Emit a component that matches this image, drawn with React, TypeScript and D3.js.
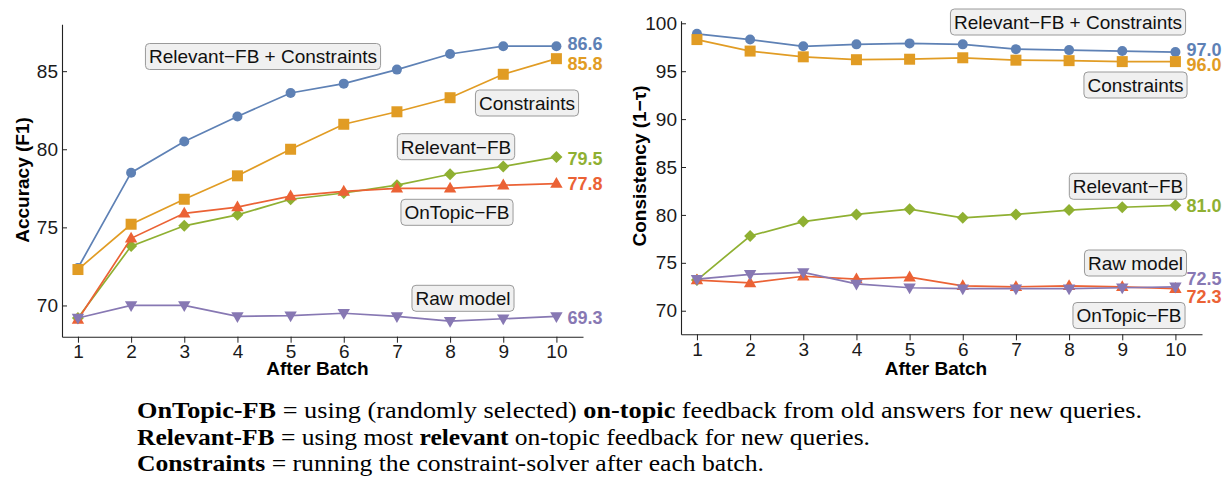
import React, { useRef, useEffect } from 'react';
import * as d3 from 'd3';

const batches = [1, 2, 3, 4, 5, 6, 7, 8, 9, 10];
const seriesNames = ["Relevant−FB + Constraints", "Constraints", "Relevant−FB", "OnTopic−FB", "Raw model"];
const seriesColors = ["#5e81b5", "#e19c24", "#8fb032", "#eb6235", "#8778b3"];
const seriesMarkers = ["circle", "square", "diamond", "triangleUp", "triangleDown"];

// Accuracy (F1)
const accRelConstr = [72.4, 78.5, 80.5, 82.1, 83.6, 84.2, 85.1, 86.1, 86.6, 86.6];
const accConstr = [72.3, 75.2, 76.8, 78.3, 80.0, 81.6, 82.4, 83.3, 84.8, 85.8];
const accRelevant = [69.2, 73.8, 75.1, 75.8, 76.8, 77.2, 77.7, 78.4, 78.9, 79.5];
const accOnTopic = [69.1, 74.3, 75.9, 76.3, 77.0, 77.3, 77.5, 77.5, 77.7, 77.8];
const accRaw = [69.2, 70.0, 70.0, 69.3, 69.35, 69.5, 69.3, 69.0, 69.15, 69.3];
const accEndLabels = ["86.6", "85.8", "79.5", "77.8", "69.3"];
const accTicks = [70, 75, 80, 85];

// Consistency (1-tau)
const conRelConstr = [98.9, 98.3, 97.6, 97.8, 97.9, 97.8, 97.3, 97.2, 97.1, 97.0];
const conConstr = [98.3, 97.1, 96.5, 96.2, 96.25, 96.4, 96.15, 96.1, 96.0, 96.0];
const conRelevant = [73.2, 77.8, 79.3, 80.05, 80.6, 79.7, 80.05, 80.5, 80.8, 81.0];
const conOnTopic = [73.2, 72.9, 73.6, 73.3, 73.5, 72.6, 72.5, 72.6, 72.5, 72.3];
const conRaw = [73.3, 73.8, 74.0, 72.8, 72.4, 72.3, 72.3, 72.3, 72.4, 72.5];
const conEndLabels = ["97.0", "96.0", "81.0", "72.3", "72.5"];
const conTicks = [70, 75, 80, 85, 90, 95, 100];

const sans = "Liberation Sans, Arial, sans-serif";
const serif = "Liberation Serif, Times New Roman, serif";

const panels = [
  {
    series: [accRelConstr, accConstr, accRelevant, accOnTopic, accRaw],
    ends: accEndLabels,
    endDy: [-3, 5, 1, 0, 1],
    ticks: accTicks,
    yDomain: [68, 88],
    yRange: [336.7, 24.3],
    xRange: [62, 583],
    yTitle: "Accuracy (F1)",
    yTitlePos: [22.5, 180],
    xTitleX: 317.5,
    boxes: [[263, 56.5], [527, 103], [456, 146.7], [457, 212.3], [463, 298.3]],
  },
  {
    series: [conRelConstr, conConstr, conRelevant, conOnTopic, conRaw],
    ends: conEndLabels,
    endDy: [-3, 3, 0, 8, -8],
    ticks: conTicks,
    yDomain: [67.54, 100.27],
    yRange: [334.3, 20.7],
    xRange: [681, 1202],
    yTitle: "Consistency (1−τ)",
    yTitlePos: [639, 166],
    xTitleX: 936,
    boxes: [[1068, 22], [1135.5, 85], [1128, 186.3], [1129, 315.5], [1135.5, 263]],
  },
];

const caption = [
  { parts: [["OnTopic-FB", true], [" = using (randomly selected) ", false], ["on-topic", true], [" feedback from old answers for new queries.", false]], width: 1005 },
  { parts: [["Relevant-FB", true], [" = using most ", false], ["relevant", true], [" on-topic feedback for new queries.", false]], width: 733 },
  { parts: [["Constraints", true], [" = running the constraint-solver after each batch.", false]], width: 627 },
];

const markerPath = (kind: string) => {
  switch (kind) {
    case "circle": return d3.symbol().type(d3.symbolCircle).size(Math.PI * 25)()!;
    case "square": return "M-5.5,-5.5H5.5V5.5H-5.5Z";
    case "diamond": return "M0,-6L6,0L0,6L-6,0Z";
    case "triangleUp": return "M0,-6.6L6.2,4.2L-6.2,4.2Z";
    default: return "M0,6.6L6.2,-4.2L-6.2,-4.2Z";
  }
};

const App: React.FC = () => {
  const svgRef = useRef<SVGSVGElement | null>(null);

  useEffect(() => {
    const svg = d3.select(svgRef.current);
    svg.selectAll("*").remove();

    panels.forEach(p => {
      const x = d3.scaleLinear().domain([0.7, 10.5]).range(p.xRange);
      const y = d3.scaleLinear().domain(p.yDomain).range(p.yRange);
      const g = svg.append("g");

      // axes
      const yAxis = g.append("g")
        .attr("transform", `translate(${p.xRange[0]},0)`)
        .call(d3.axisLeft(y).tickValues(p.ticks).tickSize(-5).tickSizeOuter(0).tickPadding(4));
      const xAxis = g.append("g")
        .attr("transform", `translate(0,${p.yRange[0]})`)
        .call(d3.axisBottom(x).tickValues(batches).tickSize(6).tickSizeOuter(0).tickPadding(2).tickFormat(d3.format("d")));
      [yAxis, xAxis].forEach(a => {
        a.attr("font-family", sans).attr("font-size", 19);
        a.select(".domain").attr("stroke", "#222").attr("stroke-width", 1.1);
        a.selectAll(".tick line").attr("stroke", "#222");
        a.selectAll(".tick text").attr("fill", "#1a1a1a");
      });

      // axis titles
      g.append("text")
        .attr("transform", `translate(${p.yTitlePos[0]},${p.yTitlePos[1]}) rotate(-90)`)
        .attr("text-anchor", "middle")
        .attr("dy", "0.35em")
        .attr("font-family", sans)
        .attr("font-size", 19)
        .attr("font-weight", "bold")
        .text(p.yTitle);
      g.append("text")
        .attr("x", p.xTitleX)
        .attr("y", 374.5)
        .attr("text-anchor", "middle")
        .attr("font-family", sans)
        .attr("font-size", 19)
        .attr("font-weight", "bold")
        .text("After Batch");

      // series
      p.series.forEach((vals, i) => {
        const line = d3.line<number>().x((_, j) => x(batches[j])).y(d => y(d));
        g.append("path")
          .attr("d", line(vals)!)
          .attr("fill", "none")
          .attr("stroke", seriesColors[i])
          .attr("stroke-width", 1.7);
        g.append("g")
          .selectAll("path")
          .data(vals)
          .join("path")
          .attr("transform", (d, j) => `translate(${x(batches[j])},${y(d)})`)
          .attr("d", markerPath(seriesMarkers[i]))
          .attr("fill", seriesColors[i]);
      });

      // end value labels
      p.series.forEach((vals, i) => {
        g.append("text")
          .attr("x", x(10) + 11)
          .attr("y", y(vals[vals.length - 1]) + p.endDy[i])
          .attr("dy", "0.36em")
          .attr("font-family", sans)
          .attr("font-size", 18)
          .attr("font-weight", "bold")
          .attr("fill", seriesColors[i])
          .text(p.ends[i]);
      });

      // series name boxes
      seriesNames.forEach((name, i) => {
        const [cx, cy] = p.boxes[i];
        const bg = g.append("g");
        const rect = bg.append("rect");
        const t = bg.append("text")
          .attr("x", cx)
          .attr("y", cy)
          .attr("dy", "0.36em")
          .attr("text-anchor", "middle")
          .attr("font-family", sans)
          .attr("font-size", 19)
          .attr("fill", "#111")
          .text(name);
        const w = (t.node() as SVGTextElement).getComputedTextLength() + 7;
        rect.attr("x", cx - w / 2).attr("y", cy - 13).attr("width", w).attr("height", 26)
          .attr("rx", 4)
          .attr("fill", "#f0f0f0")
          .attr("stroke", "#9a9a9a")
          .attr("stroke-width", 1);
      });
    });

    // caption under the charts
    caption.forEach((line, i) => {
      const t = svg.append("text")
        .attr("x", 137)
        .attr("y", 418 + i * 26.7)
        .attr("font-family", serif)
        .attr("font-size", 22.5)
        .attr("fill", "#000")
        .attr("textLength", line.width)
        .attr("lengthAdjust", "spacingAndGlyphs");
      line.parts.forEach(([s, b]) => {
        t.append("tspan").attr("font-weight", b ? "bold" : "normal").text(s as string);
      });
    });
  }, []);

  return (
    <svg ref={svgRef} width={1225} height={479}
      style={{ position: 'absolute', left: 0, top: 0, background: '#fff' }} />
  );
};

export default App;
